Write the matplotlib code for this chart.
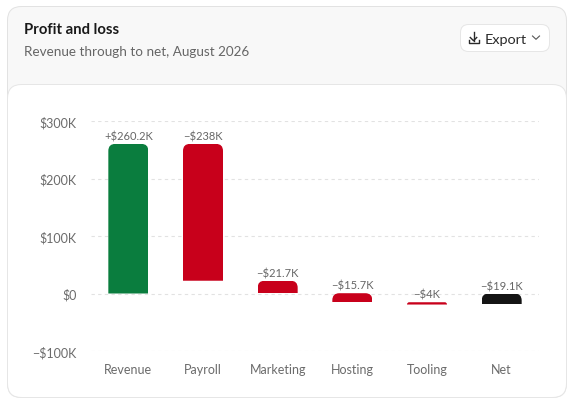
import matplotlib
matplotlib.use("Agg")
import matplotlib.pyplot as plt
from matplotlib.patches import FancyBboxPatch
from matplotlib.path import Path

plt.rcParams['font.family'] = ['Lato', 'DejaVu Sans']

categories = ["Revenue", "Payroll", "Marketing", "Hosting", "Tooling", "Net"]
bar_bottoms = [0, 22.2, 0.5, -15.2, -19.2, -19.1]
bar_tops = [260.2, 260.2, 22.2, 0.5, -15.2, 0]
value_labels = ["+$260.2K", "\u2212$238K", "\u2212$21.7K", "\u2212$15.7K", "\u2212$4K", "\u2212$19.1K"]
bar_colors = ["#0a7d3e", "#c8001b", "#c8001b", "#c8001b", "#c8001b", "#141414"]
y_ticks = [-100, 0, 100, 200, 300]
y_tick_labels = ["\u2212$100K", "$0", "$100K", "$200K", "$300K"]

W, H = 574, 406
fig = plt.figure(figsize=(W / 100, H / 100), dpi=100, facecolor="white")

# page chrome in pixel coordinates
bg = fig.add_axes([0, 0, 1, 1], zorder=0)
bg.set_xlim(0, W)
bg.set_ylim(H, 0)
bg.axis("off")


def card(x0, y0, x1, y1, r, fc, ec):
    bg.add_patch(FancyBboxPatch((x0 + r, y0 + r), x1 - x0 - 2 * r, y1 - y0 - 2 * r,
                                boxstyle=f"round,pad={r},rounding_size={r}",
                                fc=fc, ec=ec, lw=0.72))


card(7.5, 7.5, 566.5, 398.5, 14, "#f8f8f8", "#e2e2e2")
card(7.5, 85.5, 566.5, 398.5, 14, "#ffffff", "#e6e6e6")
card(460.5, 25.5, 549.5, 52.5, 8, "#ffffff", "#e6e6e6")

bg.text(24, 29.5, "Profit and loss", fontsize=10.7, fontweight="bold", color="#1a1a1a", va="center", ha="left")
bg.text(24, 51.5, "Revenue through to net, August 2026", fontsize=9.7, color="#666666", va="center", ha="left")
bg.text(484.5, 39.5, "Export", fontsize=10.4, color="#2a2a2a", va="center", ha="left")
# download icon and chevron
ic = "#2a2a2a"
bg.plot([473.5, 473.5], [33, 41.5], color=ic, lw=1.0)
bg.plot([470.3, 473.5, 476.7], [38.5, 41.7, 38.5], color=ic, lw=1.0)
bg.plot([468.5, 468.5, 478.5, 478.5], [40.5, 44.2, 44.2, 40.5], color=ic, lw=1.0)
bg.plot([532.5, 536, 539.5], [37, 40.3, 37], color="#555555", lw=0.8)

# chart
ax = fig.add_axes([91 / W, 1 - 352 / H, 448 / W, (352 - 122) / H], zorder=1)
ax.patch.set_alpha(0)
ax.set_xlim(-0.5, 5.5)
ax.set_ylim(-100, 300)
for s in ax.spines.values():
    s.set_visible(False)
ax.set_yticks(y_ticks, y_tick_labels)
ax.set_xticks(range(len(categories)), categories)
ax.tick_params(length=0, labelsize=9, labelcolor="#6b6b6b")
ax.tick_params(axis="y", pad=10.5)
ax.tick_params(axis="x", pad=9)
ax.grid(axis="y", color="#e2e2e2", lw=0.8, ls=(0, (3, 3)))
ax.set_axisbelow(True)

bar_w = 40 / (448 / 6)
heights = [t - b for t, b in zip(bar_tops, bar_bottoms)]
bars = ax.bar(range(len(categories)), heights, bottom=bar_bottoms, width=bar_w, color=bar_colors, zorder=2)

# rounded top corners, capped by bar height
for i, bar in enumerate(bars):
    x0, x1 = bar.get_x(), bar.get_x() + bar.get_width()
    b, t = bar.get_y(), bar.get_y() + bar.get_height()
    h_px = (t - b) * 230 / 400
    r_px = min(7, h_px)
    rx = r_px * 6 / 448
    ry = r_px * 400 / 230
    verts = [(x0, b), (x0, t - ry), (x0, t), (x0 + rx, t), (x1 - rx, t), (x1, t), (x1, t - ry), (x1, b), (x0, b)]
    codes = [Path.MOVETO, Path.LINETO, Path.CURVE3, Path.CURVE3, Path.LINETO, Path.CURVE3, Path.CURVE3, Path.LINETO, Path.CLOSEPOLY]
    bar.set_clip_path(Path(verts, codes), ax.transData)
    ax.annotate(value_labels[i], (i, t), xytext=(0, 1.8), textcoords="offset points",
                ha="center", va="bottom", fontsize=8, color="#666666", zorder=3)

fig.savefig("out.png", dpi=100)
